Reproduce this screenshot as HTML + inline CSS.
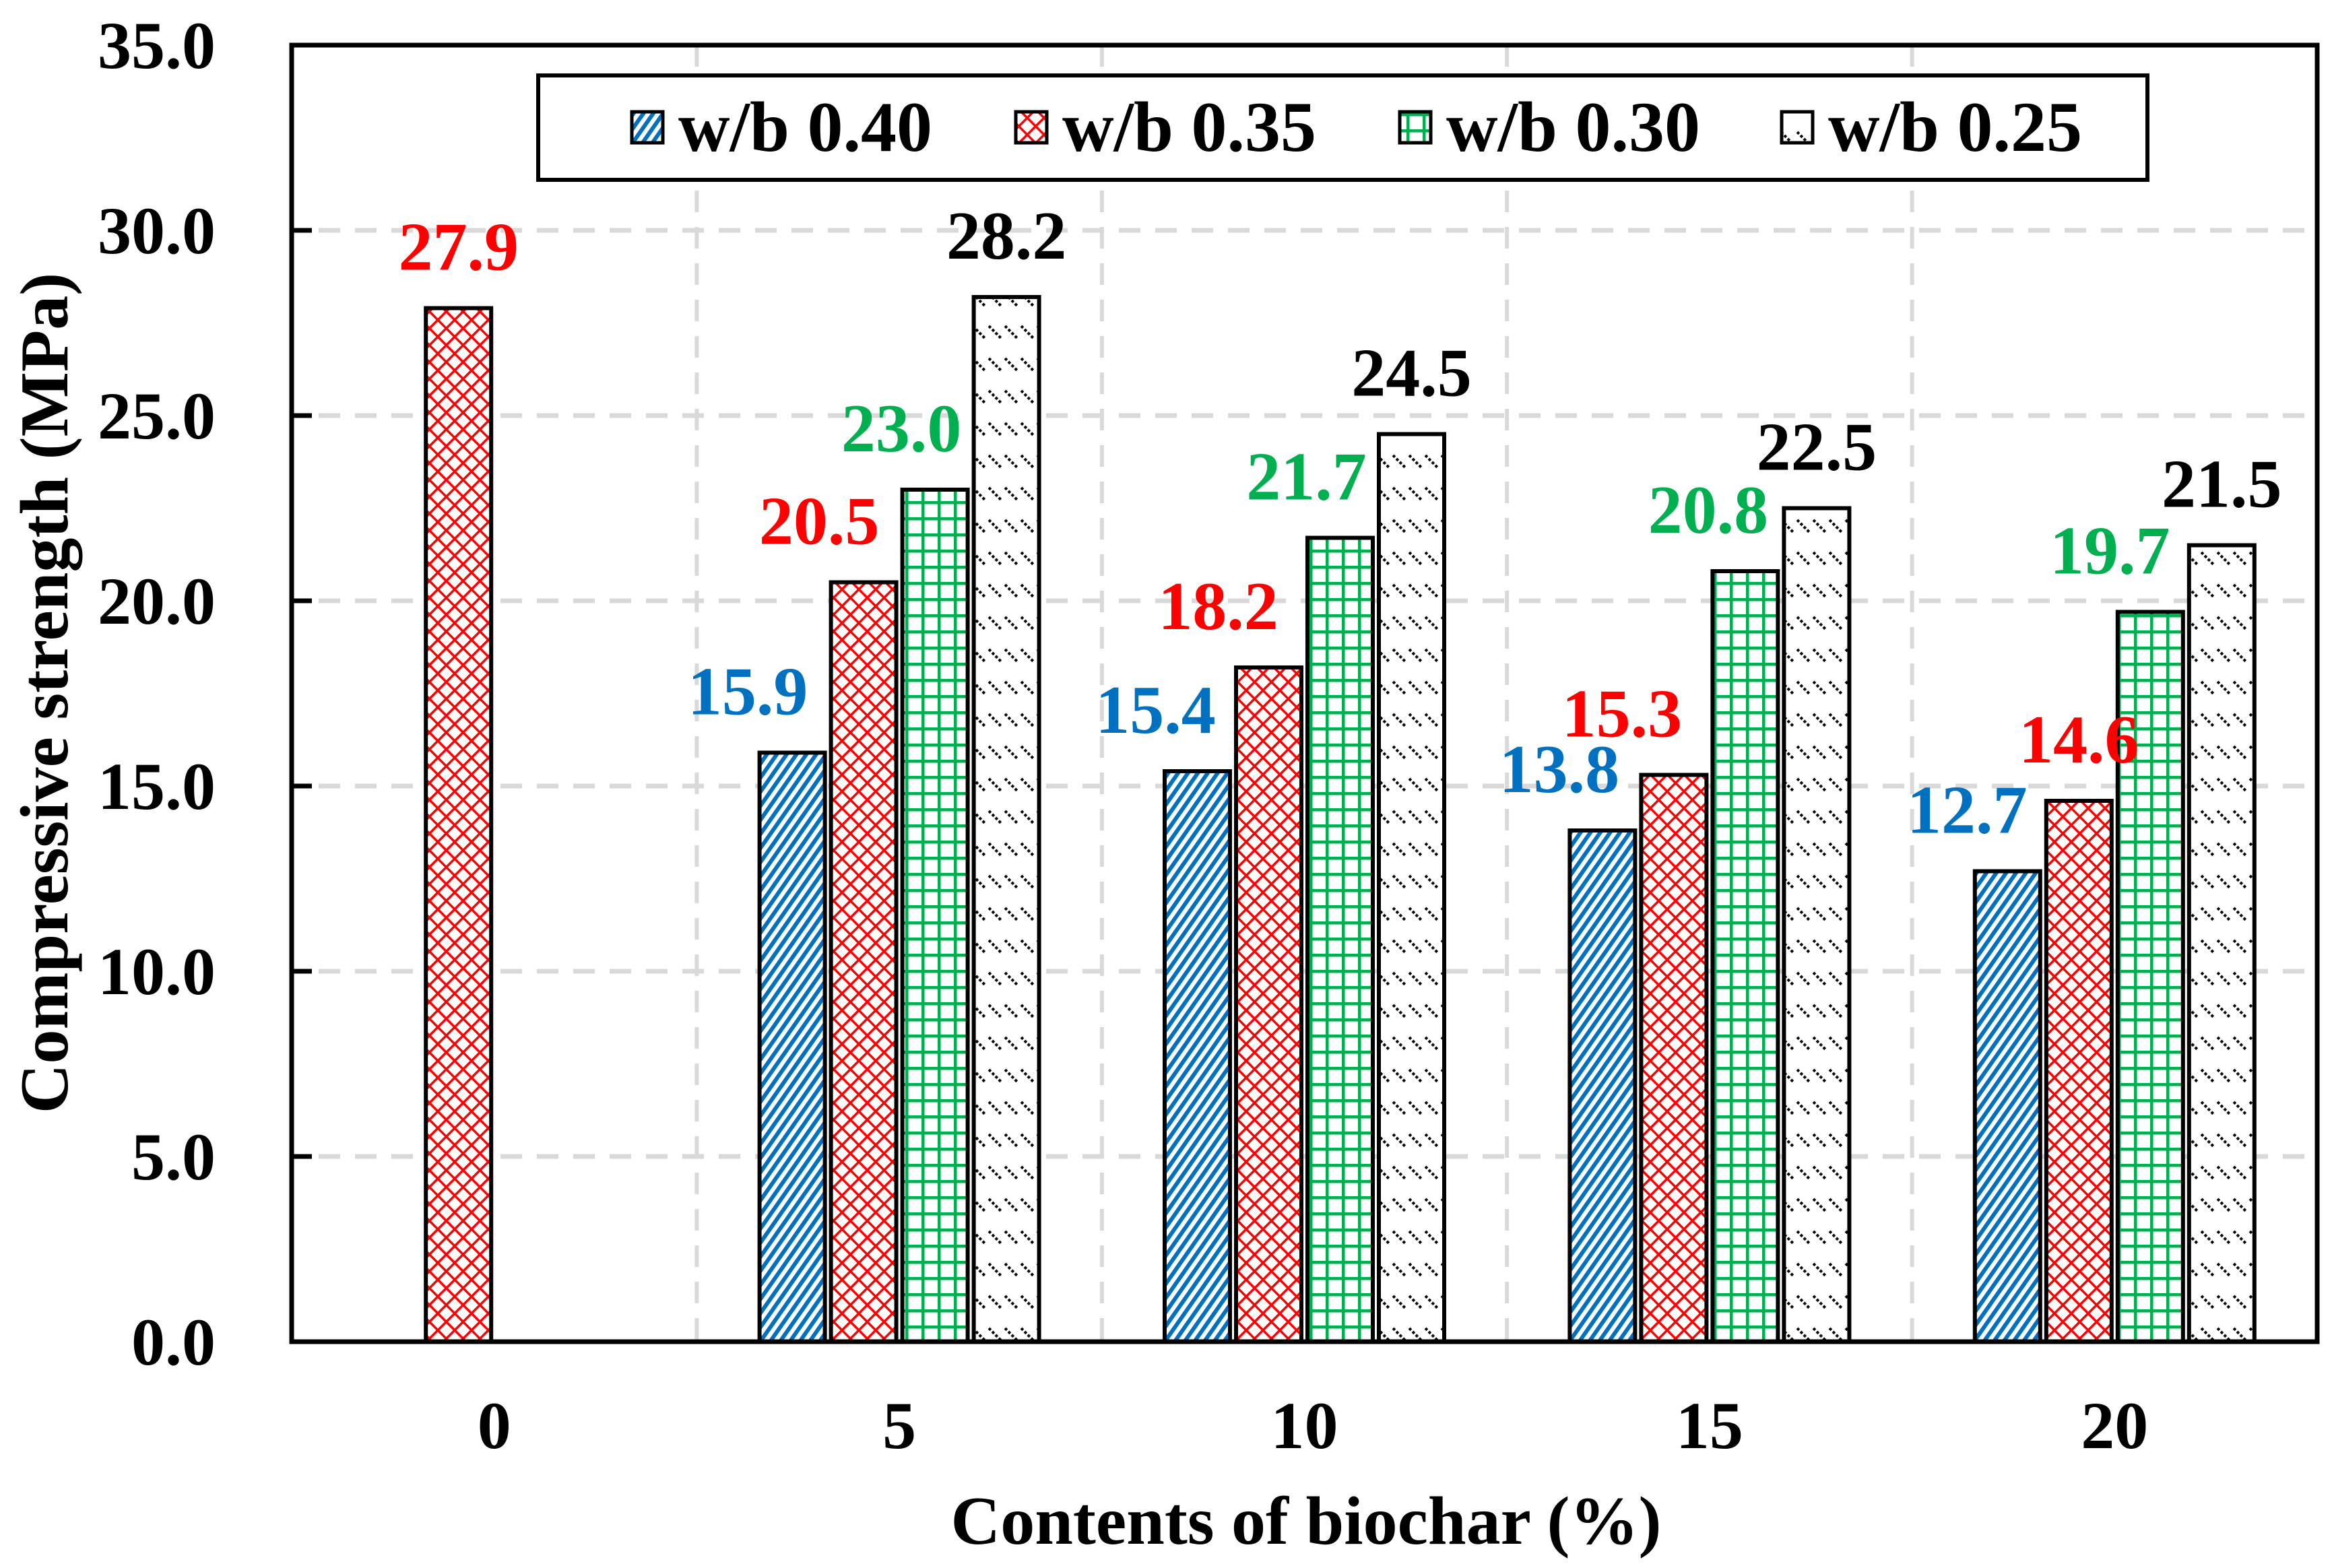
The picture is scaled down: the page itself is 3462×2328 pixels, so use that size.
<!DOCTYPE html>
<html><head><meta charset="utf-8"><style>
html,body{margin:0;padding:0;background:#fff;}
svg{display:block;font-family:"Liberation Serif",serif;font-weight:bold;}
</style></head><body>
<svg id="chart" width="3462" height="2328" viewBox="0 0 3462 2328" xmlns="http://www.w3.org/2000/svg">
<defs>
<pattern id="p0" width="12" height="12" patternUnits="userSpaceOnUse" patternTransform="rotate(-55)"><rect width="12" height="12" fill="#fff"/><rect width="12" height="6" fill="#0070c0"/></pattern>
<pattern id="p1" width="25" height="25" patternUnits="userSpaceOnUse"><rect width="25" height="25" fill="#fff"/><path d="M0,0L25,25M25,0L0,25" stroke="#ff0000" stroke-width="3.5"/></pattern>
<pattern id="p2" width="24" height="24" patternUnits="userSpaceOnUse"><rect width="24" height="24" fill="#fff"/><path d="M0,2H24M2,0V24" stroke="#00b050" stroke-width="5"/></pattern>
<pattern id="p3" width="24" height="48" patternUnits="userSpaceOnUse"><rect width="24" height="48" fill="#fff"/><path d="M4,4L22,22" stroke="#000" stroke-width="4" stroke-dasharray="4 3"/></pattern>
</defs>
<g id="grid"></g><g id="bars"></g><g id="labels"></g><g id="axes"></g><g id="legend"></g>
</svg>
<script>
const categories = ["0","5","10","15","20"];
const seriesNames = ["w/b 0.40","w/b 0.35","w/b 0.30","w/b 0.25"];
const wb040 = [null,15.9,15.4,13.8,12.7];
const wb035 = [27.9,20.5,18.2,15.3,14.6];
const wb030 = [null,23.0,21.7,20.8,19.7];
const wb025 = [null,28.2,24.5,22.5,21.5];
const yTicks = [0,5,10,15,20,25,30,35];
const yTickLabels = ["0.0","5.0","10.0","15.0","20.0","25.0","30.0","35.0"];

const NS="http://www.w3.org/2000/svg";
const L=433,R=3440,T=67,B=1992,YMAX=35;
const y=v=>B-(v/YMAX)*(B-T);
const catW=(R-L)/categories.length;
const xc=i=>L+catW*(i+0.5);
const barW=97, step=106;
const series=[wb040,wb035,wb030,wb025];
const colors=["#0070c0","#ff0000","#00b050","#000000"];
const labelOff=[[0,-66,-62,-64,-60],[0,-66,-75,-77,0],[0,-50,-50,-55,-60],[0,0,0,0,0]];
function mk(tag,attrs,parent){const e=document.createElementNS(NS,tag);for(const k in attrs)e.setAttribute(k,attrs[k]);parent.appendChild(e);return e;}
const grid=document.getElementById('grid'),bars=document.getElementById('bars'),labels=document.getElementById('labels'),axes=document.getElementById('axes'),legend=document.getElementById('legend');

yTicks.forEach((t,i)=>{
  if(t>0&&t<YMAX){const g=mk('line',{x1:L+40,x2:R,y1:y(t),y2:y(t),stroke:'#d9d9d9','stroke-width':7,'stroke-dasharray':'32 22'},grid);
  
  }
  const tk=mk('line',{x1:L,x2:L+30,y1:y(t),y2:y(t),stroke:'#000','stroke-width':7},axes);
  
  
  const tl=mk('text',{x:320,y:y(t)+34,'text-anchor':'end','font-size':100},axes);
  tl.textContent=yTickLabels[i];
  
  
});
for(let i=1;i<categories.length;i++){
  const g=mk('line',{x1:L+catW*i,x2:L+catW*i,y1:T,y2:B,stroke:'#d9d9d9','stroke-width':6,'stroke-dasharray':'32 22'},grid);
  
  
}
categories.forEach((c,i)=>{
  const t=mk('text',{x:xc(i),y:2150,'text-anchor':'middle','font-size':100},axes);
  t.textContent=c;
  
  
  series.forEach((s,j)=>{
    const v=s[i]; if(v==null)return;
    const cx=xc(i)+(j-1.5)*step;
    const r=mk('rect',{x:cx-barW/2,y:y(v),width:barW,height:B-y(v),fill:'url(#p'+j+')',stroke:'#000','stroke-width':6},bars);
    
    
    const lb=mk('text',{x:cx+labelOff[j][i],y:y(v)-57,'text-anchor':'middle','font-size':102,fill:colors[j]},labels);
    lb.textContent=v.toFixed(1);
    
    
  });
});
const frame=mk('rect',{x:L,y:T,width:R-L,height:B-T,fill:'none',stroke:'#000','stroke-width':7},axes);


const xt=mk('text',{x:1939,y:2292,'text-anchor':'middle','font-size':102},axes);
xt.textContent='Contents of biochar (%)';


const yt=mk('text',{x:0,y:0,'text-anchor':'middle','font-size':102,transform:'translate(100,1029) rotate(-90)'},axes);
yt.textContent='Compressive strength (MPa)';


const lbox=mk('rect',{x:799,y:112,width:2389,height:155,fill:'#fff',stroke:'#000','stroke-width':6},legend);


const lx=[938,1508,2078,2645];
seriesNames.forEach((n,j)=>{
  const sw=mk('rect',{x:lx[j],y:166,width:46,height:46,fill:'url(#p'+j+')',stroke:'#000','stroke-width':5},legend);
  
  
  const t=mk('text',{x:lx[j]+69,y:224,'font-size':106},legend);
  t.textContent=n;
  
  
});
</script>
</body></html>
